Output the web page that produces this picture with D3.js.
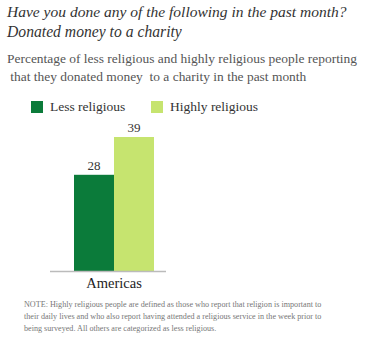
<!DOCTYPE html>
<html><head><meta charset="utf-8">
<script src="https://cdn.jsdelivr.net/npm/d3@7"></script>
<style>body{margin:0;background:#fff}svg{display:block}</style>
</head><body>
<svg id="c" width="366" height="339"></svg>
<script>
const categories = ["Americas"];
const seriesNames = ["Less religious", "Highly religious"];
const lessReligious = [28];
const highlyReligious = [39];
const colors = ["#0b7b3a", "#c6e46f"];
const titleLines = ["Have you done any of the following in the past month?", "Donated money to a charity"];
const subtitleLines = ["Percentage of less religious and highly religious people reporting", " that they donated money  to a charity in the past month"];
const noteLines = ["NOTE: Highly religious people are defined as those who report that religion is important to",
  "their daily lives and who also report having attended a religious service in the week prior to",
  "being surveyed. All others are categorized as less religious."];

const svg = d3.select("#c");
const serif = "'Liberation Serif', serif";

function fit(node, w) {
  const t=d3.select(node); const l=node.getComputedTextLength(); const fs=parseFloat(t.attr("font-size")); t.attr("font-size", (fs*w/l).toFixed(2));
}

const titleWidths = [340, 175];
svg.selectAll("text.title").data(titleLines).join("text").attr("class","title")
  .attr("x",7).attr("y",(d,i)=>17+i*20).attr("font-family",serif).attr("font-style","italic")
  .attr("font-size",15).attr("fill","#333").text(d=>d)
  .each(function(d,i){ fit(this, titleWidths[i]); });

svg.selectAll("text.sub").data(subtitleLines).join("text").attr("class","sub")
  .attr("x",7).attr("y",(d,i)=>63+i*18).attr("font-family",serif)
  .attr("font-size",12).attr("fill","#555").style("white-space","pre").attr("xml:space","preserve").text(d=>d);
fit(svg.select("text.sub").node(), 350);
svg.selectAll("text.sub").attr("font-size", svg.select("text.sub").attr("font-size"));

// legend
const legX = [31, 151];
const leg = svg.selectAll("g.leg").data(seriesNames).join("g").attr("class","leg")
  .attr("transform",(d,i)=>`translate(${legX[i]},101)`);
leg.append("rect").attr("width",12).attr("height",12).attr("fill",(d,i)=>colors[i]);
leg.append("text").attr("x",19).attr("y",10).attr("font-family",serif).attr("font-size",13.5).attr("fill","#333").text(d=>d);

// chart
const x0 = d3.scaleBand().domain(categories).range([74,154]).padding(0);
const x1 = d3.scaleBand().domain(seriesNames).range([0, x0.bandwidth()]);
const y = d3.scaleLinear().domain([0, 39]).range([271, 137]);
const vals = [lessReligious, highlyReligious];

const g = svg.append("g");
categories.forEach((c, ci) => {
  seriesNames.forEach((s, si) => {
    const v = vals[si][ci];
    g.append("rect").attr("x", x0(c)+x1(s)).attr("width", x1.bandwidth())
      .attr("y", y(v)).attr("height", y(0)-y(v)).attr("fill", colors[si]);
    g.append("text").attr("x", x0(c)+x1(s)+x1.bandwidth()/2).attr("y", y(v)-5)
      .attr("text-anchor","middle").attr("font-family",serif).attr("font-size",13).attr("fill","#333").text(v);
  });
});
const ax = svg.append("g").attr("transform","translate(0,271)").call(d3.axisBottom(x0).tickSize(0).tickPadding(7));
ax.select(".domain").remove();
svg.append("line").attr("x1",50).attr("x2",166).attr("y1",271.5).attr("y2",271.5).attr("stroke","#bbb").attr("stroke-width",1.5);
ax.selectAll("text").attr("font-family",serif).attr("font-size",14.5).attr("fill","#222").attr("dy","0.71em");

svg.selectAll("text.note").data(noteLines).join("text").attr("class","note")
  .attr("x",24).attr("y",(d,i)=>307+i*12).attr("font-family",serif)
  .attr("font-size",7.5).attr("fill","#777").text(d=>d);
fit(svg.select("text.note").node(), 298);
svg.selectAll("text.note").attr("font-size", svg.select("text.note").attr("font-size"));
</script>
</body></html>
